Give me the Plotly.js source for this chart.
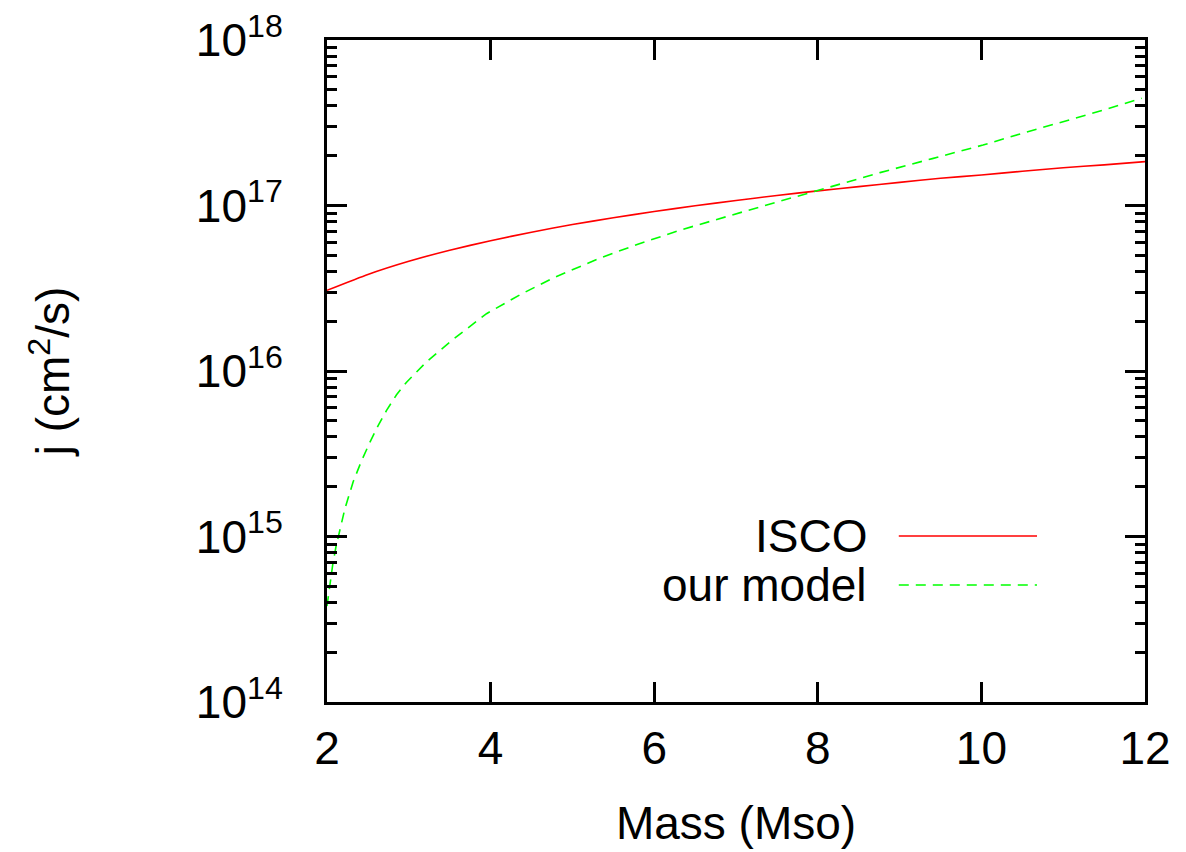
<!DOCTYPE html>
<html>
<head>
<meta charset="utf-8">
<script src="https://cdn.plot.ly/plotly-3.0.1.min.js"></script>
<style>html,body{margin:0;padding:0;background:#fff;}#chart{width:1186px;height:852px;}</style>
</head>
<body>
<div id="chart"></div>
<script>
// ISCO specific angular momentum (cm^2/s) vs mass (Msun)
const iscoMass = [2, 2.5, 3, 3.5, 4, 4.5, 5, 5.5, 6, 6.5, 7, 7.5, 8, 8.5, 9, 9.5, 10, 10.5, 11, 11.5, 12];
const iscoJ = [3.07e16, 3.83e16, 4.60e16, 5.37e16, 6.13e16, 6.90e16, 7.67e16, 8.43e16, 9.20e16, 9.96e16,
               1.073e17, 1.15e17, 1.226e17, 1.30e17, 1.38e17, 1.46e17, 1.53e17, 1.61e17, 1.69e17, 1.76e17, 1.84e17];

// our model
const modelMass = [2.0, 2.03, 2.07, 2.11, 2.15, 2.22, 2.32, 2.42, 2.53, 2.63, 2.73, 2.85, 2.97, 3.22, 3.54,
                   3.95, 4.36, 4.77, 5.34, 5.8, 6.32, 7.0, 7.54, 7.94, 8.39, 8.76, 9.4, 10.02, 10.5, 11.0,
                   11.5, 11.96];
const modelJ = [3.8e14, 5.0e14, 6.76e14, 8.7e14, 1.07e15, 1.48e15, 2.14e15, 2.85e15, 3.76e15, 4.73e15,
                5.8e15, 7.19e15, 8.53e15, 1.14e16, 1.55e16, 2.22e16, 2.89e16, 3.66e16, 4.82e16, 5.83e16,
                7.11e16, 8.93e16, 1.064e17, 1.208e17, 1.40e17, 1.58e17, 1.92e17, 2.32e17, 2.73e17, 3.22e17,
                3.78e17, 4.45e17];

const xTickVals = [2, 4, 6, 8, 10, 12];
const xTickText = ['2', '4', '6', '8', '10', '12'];
const yTickVals = [1e14, 1e15, 1e16, 1e17, 1e18];
const yTickText = ['10<sup>14</sup>', '10<sup>15</sup>', '10<sup>16</sup>', '10<sup>17</sup>', '10<sup>18</sup>'];

const seriesNames = ['ISCO', 'our model'];
const seriesColors = ['#ff0000', '#00ff00'];

const FONT = 'Liberation Sans, Arial, sans-serif';

const traces = [
  {x: iscoMass, y: iscoJ, mode: 'lines', name: seriesNames[0], showlegend: false,
   line: {color: seriesColors[0], width: 1.6, shape: 'spline', smoothing: 0.5}},
  {x: modelMass, y: modelJ, mode: 'lines', name: seriesNames[1], showlegend: false,
   line: {color: seriesColors[1], width: 1.6, dash: '10px,7px'}}
];

const legendY = [0.2508, 0.1767];
const layout = {
  width: 1186, height: 852,
  margin: {l: 327, r: 41, t: 40, b: 150, pad: 0},
  paper_bgcolor: '#fff', plot_bgcolor: '#fff',
  font: {family: FONT, size: 46, color: '#000'},
  showlegend: false,
  xaxis: {
    range: [2, 12], showgrid: false, zeroline: false,
    showline: true, linecolor: '#000', linewidth: 3, mirror: 'ticks',
    ticks: 'inside', ticklen: 20, tickwidth: 3, tickcolor: '#000',
    tickmode: 'array', tickvals: xTickVals, ticktext: xTickText,
    ticklabelstandoff: 4,
    tickfont: {family: FONT, size: 46, color: '#000'},
    title: {text: 'Mass (Mso)', font: {family: FONT, size: 46, color: '#000'}, standoff: 34}
  },
  yaxis: {
    type: 'log', range: [14, 18], showgrid: false, zeroline: false,
    showline: true, linecolor: '#000', linewidth: 3, mirror: 'ticks',
    ticks: 'inside', ticklen: 20, tickwidth: 3, tickcolor: '#000',
    tickmode: 'array', tickvals: yTickVals, ticktext: yTickText,
    ticklabelstandoff: 32,
    tickfont: {family: FONT, size: 46, color: '#000'},
    minor: {ticks: 'inside', ticklen: 10, tickwidth: 3, tickcolor: '#000', dtick: 'D1', showgrid: false},
    title: {text: 'j (cm<sup>2</sup>/s)', font: {family: FONT, size: 46, color: '#000'}, standoff: 112}
  },
  annotations: seriesNames.map((n, i) => ({
    xref: 'paper', yref: 'paper', x: 0.662, y: legendY[i], xanchor: 'right', yanchor: 'middle',
    text: n, showarrow: false, font: {family: FONT, size: 46, color: '#000'}
  })),
  shapes: seriesNames.map((n, i) => ({
    type: 'line', xref: 'paper', yref: 'paper', x0: 0.699, x1: 0.868, y0: legendY[i], y1: legendY[i],
    line: {color: seriesColors[i], width: 1.6, dash: i === 1 ? '10px,7px' : 'solid'}
  }))
};

Plotly.newPlot('chart', traces, layout, {displayModeBar: false, staticPlot: true});
</script>
</body>
</html>
